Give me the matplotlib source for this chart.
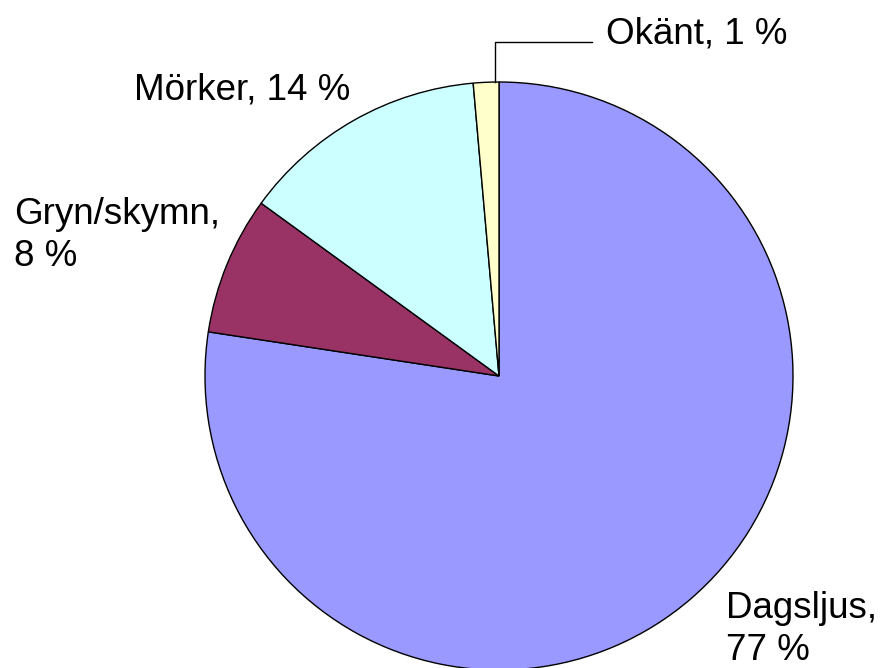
import matplotlib
matplotlib.use("Agg")
import matplotlib.pyplot as plt

# data, clockwise from 12 o'clock
labels = ["Dagsljus", "Gryn/skymn", "Mörker", "Okänt"]
shares = [77.4, 7.6, 13.6, 1.4]
pct_text = ["77 %", "8 %", "14 %", "1 %"]
colors = ["#9999FF", "#993366", "#CCFFFF", "#FFFFCC"]

W, H = 881, 668
plt.rcParams["font.family"] = ["Liberation Sans", "DejaVu Sans"]

fig = plt.figure(figsize=(W / 100, H / 100), dpi=100)
ax = fig.add_axes([0, 0, 1, 1])

cx, cy, r = 499, H - 376, 294
ax.pie(shares, colors=colors, startangle=90, counterclock=False,
       center=(cx, cy), radius=r, frame=True,
       wedgeprops=dict(edgecolor="black", linewidth=1.0))
ax.set_xlim(0, W)
ax.set_ylim(0, H)
ax.set_aspect("equal")
ax.axis("off")

fs = 26.5
ls = 1.26
# Okänt with leader line
ax.plot([495, 495, 592], [H - 82, H - 42, H - 42], color="black", lw=1.0)
ax.text(606, H - 43, f"{labels[3]}, {pct_text[3]}", fontsize=fs, va="baseline", ha="left")
ax.text(134, H - 99, f"{labels[2]}, {pct_text[2]}", fontsize=fs, va="baseline", ha="left")
# two-line labels: baseline refers to the last line here
ax.text(14, H - 266, f"{labels[1]},\n{pct_text[1]}", fontsize=fs, va="baseline", ha="left",
        linespacing=ls)
ax.text(726, H - 660, f"{labels[0]},\n{pct_text[0]}", fontsize=fs, va="baseline", ha="left",
        linespacing=ls)

fig.savefig("out.png", dpi=100)
